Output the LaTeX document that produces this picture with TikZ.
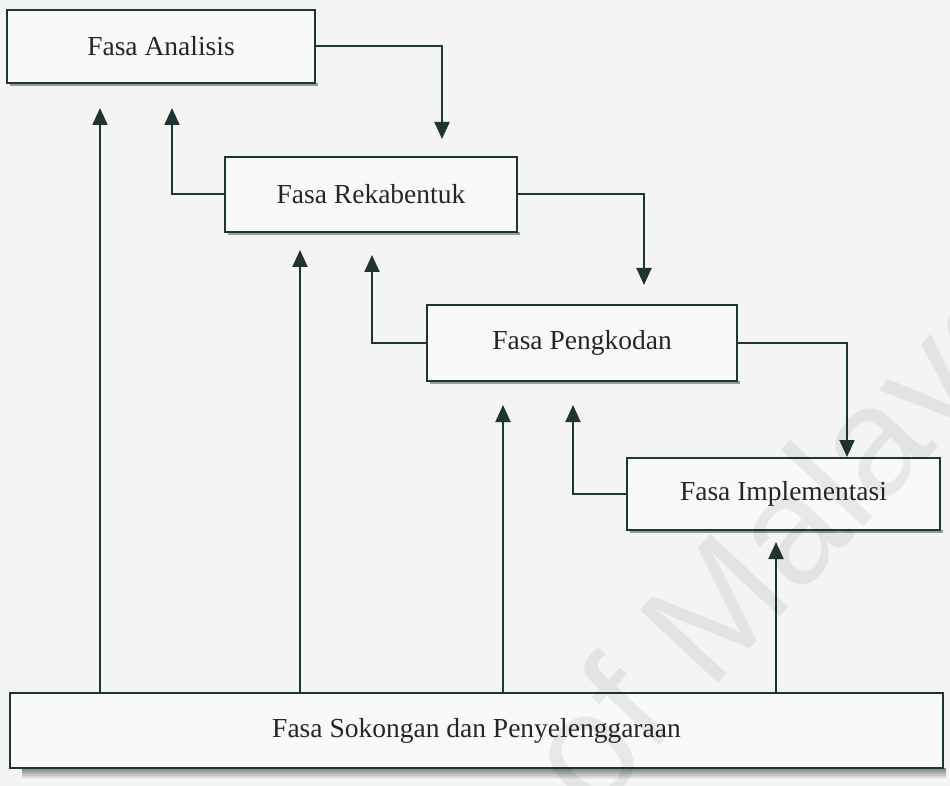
\documentclass[tikz,border=0pt]{standalone}
\usepackage{fontspec}
\setmainfont{Liberation Serif}
\newfontfamily\markfont{Liberation Sans}
\usetikzlibrary{arrows.meta,calc}
\definecolor{ink}{HTML}{1D3634}
\definecolor{paper}{HTML}{F4F4F2}
\definecolor{boxfill}{HTML}{F9F9F8}
\definecolor{shade}{HTML}{9DB0AD}
\begin{document}
\begin{tikzpicture}[x=1pt,y=-1pt,
  phase/.style={draw=ink,line width=2pt,fill=boxfill,rectangle,inner sep=0pt,
    font=\fontsize{27.5}{33}\selectfont,text=black!85},
  flow/.style={draw=ink,line width=2pt,-{Triangle[length=17pt,width=15pt]}},
  castshadow/.style={fill=black!40}]
% page
\fill[paper] (0,0) rectangle (950,786);
\useasboundingbox (0,0) rectangle (950,786);
% box shadows
\fill[castshadow] (10,83) rectangle (318,86);
\fill[castshadow] (228,232) rectangle (520,235);
\fill[castshadow] (430,381) rectangle (740,384);
\fill[castshadow] (630,530) rectangle (943,533);
\fill[shade] (22,768) rectangle (946,780);
% phases
\node[phase,minimum width=308pt,minimum height=73pt] (ana) at (161,46.5) {Fasa Analisis};
\node[phase,minimum width=292pt,minimum height=75pt] (rek) at (371,194.5) {Fasa Rekabentuk};
\node[phase,minimum width=310pt,minimum height=76pt] (pen) at (582,343) {Fasa Pengkodan};
\node[phase,minimum width=313pt,minimum height=72pt] (imp) at (783.5,494) {Fasa Implementasi};
\node[phase,minimum width=933pt,minimum height=75pt] (sok) at (476.5,730.5) {Fasa Sokongan dan Penyelenggaraan};
% forward flow between phases
\draw[flow,shorten >=17pt] (ana.east) -| ([xshift=218pt]rek.north west);
\draw[flow,shorten >=19pt] (rek.east) -| ([xshift=218pt]pen.north west);
\draw[flow] (pen.east) -| ([xshift=221pt]imp.north west);
% feedback to the previous phase
\coordinate (b1) at (172,108);
\coordinate (b2) at (372,255);
\coordinate (b3) at (573,405);
\draw[flow] (rek.west) -| (b1);
\draw[flow] (pen.west) -| (b2);
\draw[flow] (imp.west) -| (b3);
% support phase feeding every phase
\coordinate (u1) at (100,108);
\coordinate (u2) at (300,250);
\coordinate (u3) at (503,405);
\coordinate (u4) at (776,542);
\draw[flow] (u1 |- sok.north) -- (u1);
\draw[flow] (u2 |- sok.north) -- (u2);
\draw[flow] (u3 |- sok.north) -- (u3);
\draw[flow] (u4 |- sok.north) -- (u4);
% faint repository mark laid over the page
\node[text=black,text opacity=0.065,inner sep=0pt,rotate=47,
  font=\markfont\fontsize{155}{155}\selectfont] (wm) at (792,545) {of Malaya};
\end{tikzpicture}
\end{document}
